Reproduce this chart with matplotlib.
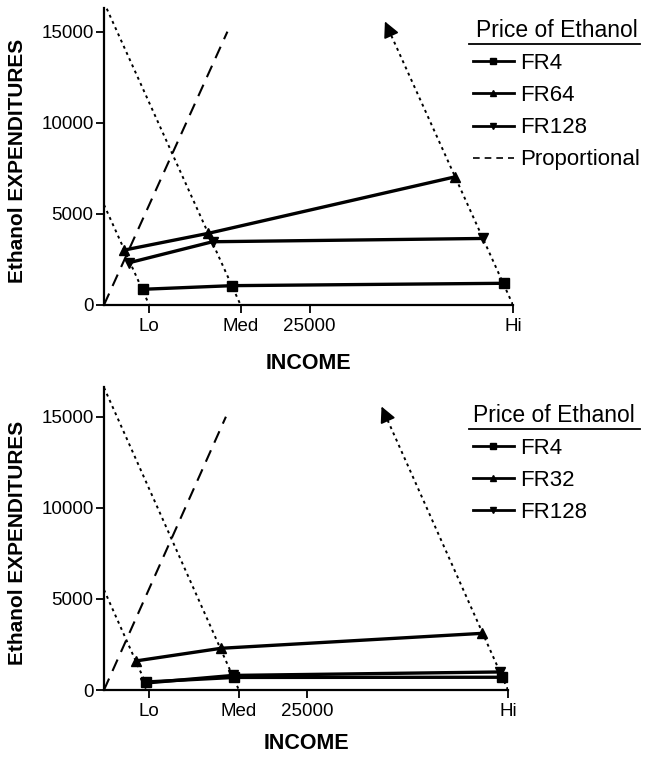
import matplotlib
matplotlib.use("Agg")
import matplotlib.pyplot as plt
from matplotlib.lines import Line2D

plt.rcParams['font.family'] = ['Liberation Sans', 'DejaVu Sans']

# income levels (budget) used for the x ticks and budget lines
income_ticks = [5500, 16600, 25000, 49700]
income_tick_labels = ['Lo', 'Med', '25000', 'Hi']
budgets = [5500, 16600, 49700]
arrow_top = 15700
proportional_x = [0, 15000]
proportional_y = [0, 15000]
y_ticks = [0, 5000, 10000, 15000]

# top panel
top_fr4_x = [4700, 15570, 48600]
top_fr4_y = [860, 1060, 1190]
top_fr64_x = [2430, 12660, 42650]
top_fr64_y = [3010, 3930, 7030]
top_fr128_x = [3070, 13190, 46100]
top_fr128_y = [2320, 3470, 3650]

# bottom panel
bot_fr4_x = [5150, 16000, 49000]
bot_fr4_y = [440, 690, 700]
bot_fr32_x = [4000, 14400, 46500]
bot_fr32_y = [1600, 2290, 3110]
bot_fr128_x = [5050, 15850, 48700]
bot_fr128_y = [380, 800, 990]


def draw_panel(ax, series, ytop, xlab_y, ylab_x):
    lo, med, hi = budgets
    # budget lines
    ax.plot([0, lo], [lo, 0], color='k', lw=1.4, ls=(0, (1.5, 2)))
    ax.plot([0, med], [med, 0], color='k', lw=1.4, ls=(0, (1.5, 2)))
    ax.plot([hi, hi - arrow_top + 500], [0, arrow_top - 500], color='k', lw=1.4, ls=(0, (1.5, 2)))
    ax.annotate('', xy=(hi - arrow_top, arrow_top), xytext=(hi - arrow_top + 900, arrow_top - 900),
                arrowprops=dict(arrowstyle='-|>', color='k', lw=1.2, mutation_scale=24))
    # proportional
    ax.plot(proportional_x, proportional_y, color='k', lw=1.5, ls=(0, (6, 4)))

    handles = []
    for x, y, m, lab in series:
        h, = ax.plot(x, y, color='k', lw=2.4, marker=m, ms=7, label=lab)
        handles.append(h)

    ax.set_xlim(0, hi)
    ax.set_ylim(0, ytop)
    ax.set_xticks(income_ticks)
    ax.set_xticklabels(income_tick_labels)
    ax.set_yticks(y_ticks)
    for s in ['top', 'right']:
        ax.spines[s].set_visible(False)
    for s in ['left', 'bottom']:
        ax.spines[s].set_linewidth(1.6)
    ax.tick_params(axis='both', labelsize=13.5, width=1.3, length=5.5, direction='out')
    ax.tick_params(axis='x', pad=4)
    ax.tick_params(axis='y', pad=2)
    ax.set_xlabel('INCOME', fontsize=15.5, fontweight='bold')
    ax.set_ylabel('Ethanol EXPENDITURES', fontsize=15, fontweight='bold')
    ax.xaxis.set_label_coords(0.5, xlab_y)
    ax.yaxis.set_label_coords(ylab_x, 0.485)
    return handles


fig = plt.figure(figsize=(6.45, 7.59), dpi=100)
ax1 = fig.add_axes([0.1612, 0.5982, 0.6341, 0.3913])
ax2 = fig.add_axes([0.1612, 0.0909, 0.6264, 0.3992])

h1 = draw_panel(ax1, [(top_fr4_x, top_fr4_y, 's', 'FR4'),
                      (top_fr64_x, top_fr64_y, '^', 'FR64'),
                      (top_fr128_x, top_fr128_y, 'v', 'FR128')], 16300, -0.162, -0.188)
h2 = draw_panel(ax2, [(bot_fr4_x, bot_fr4_y, 's', 'FR4'),
                      (bot_fr32_x, bot_fr32_y, '^', 'FR32'),
                      (bot_fr128_x, bot_fr128_y, 'v', 'FR128')], 16630, -0.142, -0.19)

leg_handles1 = [Line2D([], [], color='k', lw=2, marker=h.get_marker(), ms=4) for h in h1]
leg_handles1.append(Line2D([], [], color='k', lw=1.2, ls=(0, (4, 3))))
leg_handles2 = [Line2D([], [], color='k', lw=2, marker=h.get_marker(), ms=4) for h in h2]

leg_kw = dict(loc='upper left', frameon=False, title_fontsize=16.5, fontsize=16,
              handlelength=1.85, handletextpad=0.3, labelspacing=0.5,
              borderaxespad=0, borderpad=0)
leg1 = fig.legend(leg_handles1, ['FR4', 'FR64', 'FR128', 'Proportional'],
                  bbox_to_anchor=(0.733, 0.975), title='Price of Ethanol', **leg_kw)
leg2 = fig.legend(leg_handles2, ['FR4', 'FR32', 'FR128'], alignment='left',
                  bbox_to_anchor=(0.733, 0.468), title='Price of Ethanol', **leg_kw)

# underline the legend titles
fig.canvas.draw()
for leg in (leg1, leg2):
    bb = leg.get_title().get_window_extent().transformed(fig.transFigure.inverted())
    y = bb.y0 - 0.003
    fig.add_artist(Line2D([0.727, 0.993], [y, y], color='k', lw=1.3,
                          transform=fig.transFigure))

fig.savefig('out.png', dpi=100)
